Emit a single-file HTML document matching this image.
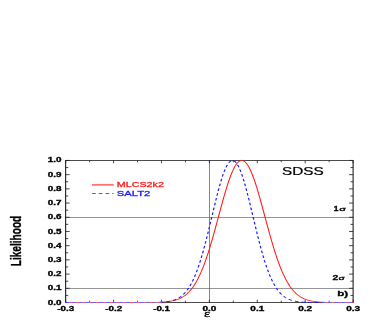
<!DOCTYPE html>
<html><head><meta charset="utf-8"><title>plot</title>
<style>
html,body{margin:0;padding:0;background:#fff;}
body{width:388px;height:332px;overflow:hidden;}
svg{display:block;will-change:transform;}
text{font-family:"Liberation Sans",sans-serif;}
</style></head><body>
<svg width="388" height="332" viewBox="0 0 388 332">
<rect width="388" height="332" fill="#fff"/>
<g transform="scale(1.38,1)">

<g stroke="#6b6b6b" stroke-width="0.6" fill="none">
<line x1="47.57" y1="217.50" x2="255.87" y2="217.50"/>
<line x1="47.57" y1="288.50" x2="255.87" y2="288.50"/>
<line x1="151.812" y1="160.45" x2="151.812" y2="302.50" stroke="#565656"/>
</g>
<rect x="47.57" y="160.45" width="208.30" height="142.05" fill="none" stroke="#111" stroke-width="0.75"/>
<path d="M47.57,302.50 h2.90 M255.87,302.50 h-2.90 M47.57,295.40 h1.88 M255.87,295.40 h-1.88 M47.57,288.30 h2.90 M255.87,288.30 h-2.90 M47.57,281.19 h1.88 M255.87,281.19 h-1.88 M47.57,274.09 h2.90 M255.87,274.09 h-2.90 M47.57,266.99 h1.88 M255.87,266.99 h-1.88 M47.57,259.88 h2.90 M255.87,259.88 h-2.90 M47.57,252.78 h1.88 M255.87,252.78 h-1.88 M47.57,245.68 h2.90 M255.87,245.68 h-2.90 M47.57,238.58 h1.88 M255.87,238.58 h-1.88 M47.57,231.47 h2.90 M255.87,231.47 h-2.90 M47.57,224.37 h1.88 M255.87,224.37 h-1.88 M47.57,217.27 h2.90 M255.87,217.27 h-2.90 M47.57,210.17 h1.88 M255.87,210.17 h-1.88 M47.57,203.06 h2.90 M255.87,203.06 h-2.90 M47.57,195.96 h1.88 M255.87,195.96 h-1.88 M47.57,188.86 h2.90 M255.87,188.86 h-2.90 M47.57,181.76 h1.88 M255.87,181.76 h-1.88 M47.57,174.65 h2.90 M255.87,174.65 h-2.90 M47.57,167.55 h1.88 M255.87,167.55 h-1.88 M47.57,160.45 h2.90 M255.87,160.45 h-2.90 M47.57,302.50 v-2.80 M47.57,160.45 v2.80 M64.93,302.50 v-1.80 M64.93,160.45 v1.80 M82.29,302.50 v-2.80 M82.29,160.45 v2.80 M99.65,302.50 v-1.80 M99.65,160.45 v1.80 M117.00,302.50 v-2.80 M117.00,160.45 v2.80 M134.36,302.50 v-1.80 M134.36,160.45 v1.80 M151.72,302.50 v-2.80 M151.72,160.45 v2.80 M169.08,302.50 v-1.80 M169.08,160.45 v1.80 M186.44,302.50 v-2.80 M186.44,160.45 v2.80 M203.80,302.50 v-1.80 M203.80,160.45 v1.80 M221.15,302.50 v-2.80 M221.15,160.45 v2.80 M238.51,302.50 v-1.80 M238.51,160.45 v1.80 M255.87,302.50 v-2.80 M255.87,160.45 v2.80" stroke="#222" stroke-width="0.7" fill="none"/>
<path d="M47.57,302.50 L47.92,302.50 L48.27,302.50 L48.61,302.50 L48.96,302.50 L49.31,302.50 L49.66,302.50 L50.00,302.50 L50.35,302.50 L50.70,302.50 L51.04,302.50 L51.39,302.50 L51.74,302.50 L52.09,302.50 L52.43,302.50 L52.78,302.50 L53.13,302.50 L53.47,302.50 L53.82,302.50 L54.17,302.50 L54.52,302.50 L54.86,302.50 L55.21,302.50 L55.56,302.50 L55.90,302.50 L56.25,302.50 L56.60,302.50 L56.95,302.50 L57.29,302.50 L57.64,302.50 L57.99,302.50 L58.33,302.50 L58.68,302.50 L59.03,302.50 L59.38,302.50 L59.72,302.50 L60.07,302.50 L60.42,302.50 L60.76,302.50 L61.11,302.50 L61.46,302.50 L61.81,302.50 L62.15,302.50 L62.50,302.50 L62.85,302.50 L63.19,302.50 L63.54,302.50 L63.89,302.50 L64.24,302.50 L64.58,302.50 L64.93,302.50 L65.28,302.50 L65.62,302.50 L65.97,302.50 L66.32,302.50 L66.67,302.50 L67.01,302.50 L67.36,302.50 L67.71,302.50 L68.06,302.50 L68.40,302.50 L68.75,302.50 L69.10,302.50 L69.44,302.50 L69.79,302.50 L70.14,302.50 L70.49,302.50 L70.83,302.50 L71.18,302.50 L71.53,302.50 L71.87,302.50 L72.22,302.50 L72.57,302.50 L72.92,302.50 L73.26,302.50 L73.61,302.50 L73.96,302.50 L74.30,302.50 L74.65,302.50 L75.00,302.50 L75.35,302.50 L75.69,302.50 L76.04,302.50 L76.39,302.50 L76.73,302.50 L77.08,302.50 L77.43,302.50 L77.78,302.50 L78.12,302.50 L78.47,302.50 L78.82,302.50 L79.16,302.50 L79.51,302.50 L79.86,302.50 L80.21,302.50 L80.55,302.50 L80.90,302.50 L81.25,302.50 L81.59,302.50 L81.94,302.50 L82.29,302.50 L82.64,302.50 L82.98,302.50 L83.33,302.50 L83.68,302.50 L84.02,302.50 L84.37,302.50 L84.72,302.50 L85.07,302.50 L85.41,302.50 L85.76,302.50 L86.11,302.50 L86.45,302.50 L86.80,302.50 L87.15,302.50 L87.50,302.50 L87.84,302.50 L88.19,302.50 L88.54,302.50 L88.88,302.50 L89.23,302.50 L89.58,302.50 L89.93,302.50 L90.27,302.50 L90.62,302.50 L90.97,302.50 L91.31,302.50 L91.66,302.50 L92.01,302.50 L92.36,302.50 L92.70,302.50 L93.05,302.50 L93.40,302.50 L93.74,302.50 L94.09,302.50 L94.44,302.50 L94.79,302.50 L95.13,302.50 L95.48,302.50 L95.83,302.50 L96.18,302.50 L96.52,302.50 L96.87,302.50 L97.22,302.50 L97.56,302.50 L97.91,302.50 L98.26,302.50 L98.61,302.50 L98.95,302.50 L99.30,302.49 L99.65,302.49 L99.99,302.49 L100.34,302.49 L100.69,302.49 L101.04,302.49 L101.38,302.49 L101.73,302.49 L102.08,302.49 L102.42,302.49 L102.77,302.49 L103.12,302.49 L103.47,302.48 L103.81,302.48 L104.16,302.48 L104.51,302.48 L104.85,302.48 L105.20,302.48 L105.55,302.47 L105.90,302.47 L106.24,302.47 L106.59,302.47 L106.94,302.46 L107.28,302.46 L107.63,302.46 L107.98,302.45 L108.33,302.45 L108.67,302.45 L109.02,302.44 L109.37,302.44 L109.71,302.43 L110.06,302.42 L110.41,302.42 L110.76,302.41 L111.10,302.40 L111.45,302.40 L111.80,302.39 L112.14,302.38 L112.49,302.37 L112.84,302.36 L113.19,302.35 L113.53,302.33 L113.88,302.32 L114.23,302.31 L114.57,302.29 L114.92,302.28 L115.27,302.26 L115.62,302.24 L115.96,302.22 L116.31,302.20 L116.66,302.18 L117.00,302.15 L117.35,302.13 L117.70,302.10 L118.05,302.07 L118.39,302.04 L118.74,302.01 L119.09,301.97 L119.43,301.93 L119.78,301.89 L120.13,301.85 L120.48,301.80 L120.82,301.75 L121.17,301.70 L121.52,301.65 L121.87,301.59 L122.21,301.53 L122.56,301.46 L122.91,301.39 L123.25,301.32 L123.60,301.24 L123.95,301.16 L124.30,301.07 L124.64,300.98 L124.99,300.88 L125.34,300.78 L125.68,300.67 L126.03,300.56 L126.38,300.43 L126.73,300.31 L127.07,300.17 L127.42,300.03 L127.77,299.88 L128.11,299.72 L128.46,299.56 L128.81,299.38 L129.16,299.20 L129.50,299.01 L129.85,298.81 L130.20,298.60 L130.54,298.37 L130.89,298.14 L131.24,297.90 L131.59,297.64 L131.93,297.38 L132.28,297.10 L132.63,296.80 L132.97,296.50 L133.32,296.18 L133.67,295.84 L134.02,295.50 L134.36,295.13 L134.71,294.75 L135.06,294.36 L135.40,293.95 L135.75,293.52 L136.10,293.07 L136.45,292.61 L136.79,292.13 L137.14,291.63 L137.49,291.11 L137.83,290.57 L138.18,290.01 L138.53,289.43 L138.88,288.82 L139.22,288.20 L139.57,287.55 L139.92,286.89 L140.26,286.20 L140.61,285.48 L140.96,284.74 L141.31,283.98 L141.65,283.20 L142.00,282.38 L142.35,281.55 L142.69,280.69 L143.04,279.80 L143.39,278.89 L143.74,277.95 L144.08,276.98 L144.43,275.99 L144.78,274.97 L145.12,273.92 L145.47,272.85 L145.82,271.75 L146.17,270.62 L146.51,269.47 L146.86,268.29 L147.21,267.08 L147.56,265.84 L147.90,264.58 L148.25,263.29 L148.60,261.98 L148.94,260.63 L149.29,259.27 L149.64,257.87 L149.99,256.45 L150.33,255.01 L150.68,253.54 L151.03,252.05 L151.37,250.54 L151.72,249.00 L152.07,247.44 L152.42,245.86 L152.76,244.26 L153.11,242.64 L153.46,241.00 L153.80,239.35 L154.15,237.68 L154.50,235.99 L154.85,234.28 L155.19,232.57 L155.54,230.84 L155.89,229.09 L156.23,227.34 L156.58,225.58 L156.93,223.82 L157.28,222.04 L157.62,220.26 L157.97,218.48 L158.32,216.70 L158.66,214.92 L159.01,213.13 L159.36,211.35 L159.71,209.58 L160.05,207.81 L160.40,206.05 L160.75,204.30 L161.09,202.55 L161.44,200.83 L161.79,199.11 L162.14,197.41 L162.48,195.73 L162.83,194.07 L163.18,192.43 L163.52,190.82 L163.87,189.23 L164.22,187.66 L164.57,186.13 L164.91,184.62 L165.26,183.15 L165.61,181.71 L165.95,180.30 L166.30,178.93 L166.65,177.60 L167.00,176.31 L167.34,175.06 L167.69,173.85 L168.04,172.69 L168.38,171.57 L168.73,170.50 L169.08,169.47 L169.43,168.50 L169.77,167.58 L170.12,166.71 L170.47,165.89 L170.81,165.13 L171.16,164.42 L171.51,163.77 L171.86,163.17 L172.20,162.63 L172.55,162.15 L172.90,161.73 L173.25,161.37 L173.59,161.07 L173.94,160.82 L174.29,160.64 L174.63,160.52 L174.98,160.46 L175.33,160.46 L175.68,160.52 L176.02,160.64 L176.37,160.82 L176.72,161.07 L177.06,161.37 L177.41,161.73 L177.76,162.15 L178.11,162.63 L178.45,163.17 L178.80,163.77 L179.15,164.42 L179.49,165.13 L179.84,165.89 L180.19,166.71 L180.54,167.58 L180.88,168.50 L181.23,169.47 L181.58,170.50 L181.92,171.57 L182.27,172.69 L182.62,173.85 L182.97,175.06 L183.31,176.31 L183.66,177.60 L184.01,178.93 L184.35,180.30 L184.70,181.71 L185.05,183.15 L185.40,184.62 L185.74,186.13 L186.09,187.66 L186.44,189.23 L186.78,190.82 L187.13,192.43 L187.48,194.07 L187.83,195.73 L188.17,197.41 L188.52,199.11 L188.87,200.83 L189.21,202.55 L189.56,204.30 L189.91,206.05 L190.26,207.81 L190.60,209.58 L190.95,211.35 L191.30,213.13 L191.64,214.92 L191.99,216.70 L192.34,218.48 L192.69,220.26 L193.03,222.04 L193.38,223.82 L193.73,225.58 L194.07,227.34 L194.42,229.09 L194.77,230.84 L195.12,232.57 L195.46,234.28 L195.81,235.99 L196.16,237.68 L196.50,239.35 L196.85,241.00 L197.20,242.64 L197.55,244.26 L197.89,245.86 L198.24,247.44 L198.59,249.00 L198.94,250.54 L199.28,252.05 L199.63,253.54 L199.98,255.01 L200.32,256.45 L200.67,257.87 L201.02,259.27 L201.37,260.63 L201.71,261.98 L202.06,263.29 L202.41,264.58 L202.75,265.84 L203.10,267.08 L203.45,268.29 L203.80,269.47 L204.14,270.62 L204.49,271.75 L204.84,272.85 L205.18,273.92 L205.53,274.97 L205.88,275.99 L206.23,276.98 L206.57,277.95 L206.92,278.89 L207.27,279.80 L207.61,280.69 L207.96,281.55 L208.31,282.38 L208.66,283.20 L209.00,283.98 L209.35,284.74 L209.70,285.48 L210.04,286.20 L210.39,286.89 L210.74,287.55 L211.09,288.20 L211.43,288.82 L211.78,289.43 L212.13,290.01 L212.47,290.57 L212.82,291.11 L213.17,291.63 L213.52,292.13 L213.86,292.61 L214.21,293.07 L214.56,293.52 L214.90,293.95 L215.25,294.36 L215.60,294.75 L215.95,295.13 L216.29,295.50 L216.64,295.84 L216.99,296.18 L217.33,296.50 L217.68,296.80 L218.03,297.10 L218.38,297.38 L218.72,297.64 L219.07,297.90 L219.42,298.14 L219.76,298.37 L220.11,298.60 L220.46,298.81 L220.81,299.01 L221.15,299.20 L221.50,299.38 L221.85,299.56 L222.19,299.72 L222.54,299.88 L222.89,300.03 L223.24,300.17 L223.58,300.31 L223.93,300.43 L224.28,300.56 L224.63,300.67 L224.97,300.78 L225.32,300.88 L225.67,300.98 L226.01,301.07 L226.36,301.16 L226.71,301.24 L227.06,301.32 L227.40,301.39 L227.75,301.46 L228.10,301.53 L228.44,301.59 L228.79,301.65 L229.14,301.70 L229.49,301.75 L229.83,301.80 L230.18,301.85 L230.53,301.89 L230.87,301.93 L231.22,301.97 L231.57,302.01 L231.92,302.04 L232.26,302.07 L232.61,302.10 L232.96,302.13 L233.30,302.15 L233.65,302.18 L234.00,302.20 L234.35,302.22 L234.69,302.24 L235.04,302.26 L235.39,302.28 L235.73,302.29 L236.08,302.31 L236.43,302.32 L236.78,302.33 L237.12,302.35 L237.47,302.36 L237.82,302.37 L238.16,302.38 L238.51,302.39 L238.86,302.40 L239.21,302.40 L239.55,302.41 L239.90,302.42 L240.25,302.42 L240.59,302.43 L240.94,302.44 L241.29,302.44 L241.64,302.45 L241.98,302.45 L242.33,302.45 L242.68,302.46 L243.02,302.46 L243.37,302.46 L243.72,302.47 L244.07,302.47 L244.41,302.47 L244.76,302.47 L245.11,302.48 L245.45,302.48 L245.80,302.48 L246.15,302.48 L246.50,302.48 L246.84,302.48 L247.19,302.49 L247.54,302.49 L247.88,302.49 L248.23,302.49 L248.58,302.49 L248.93,302.49 L249.27,302.49 L249.62,302.49 L249.97,302.49 L250.31,302.49 L250.66,302.49 L251.01,302.49 L251.36,302.50 L251.70,302.50 L252.05,302.50 L252.40,302.50 L252.75,302.50 L253.09,302.50 L253.44,302.50 L253.79,302.50 L254.13,302.50 L254.48,302.50 L254.83,302.50 L255.18,302.50 L255.52,302.50 L255.87,302.50" stroke="#ff1a1a" stroke-width="0.78" fill="none"/>
<path d="M47.57,302.50 L47.92,302.50 L48.27,302.50 L48.61,302.50 L48.96,302.50 L49.31,302.50 L49.66,302.50 L50.00,302.50 L50.35,302.50 L50.70,302.50 L51.04,302.50 L51.39,302.50 L51.74,302.50 L52.09,302.50 L52.43,302.50 L52.78,302.50 L53.13,302.50 L53.47,302.50 L53.82,302.50 L54.17,302.50 L54.52,302.50 L54.86,302.50 L55.21,302.50 L55.56,302.50 L55.90,302.50 L56.25,302.50 L56.60,302.50 L56.95,302.50 L57.29,302.50 L57.64,302.50 L57.99,302.50 L58.33,302.50 L58.68,302.50 L59.03,302.50 L59.38,302.50 L59.72,302.50 L60.07,302.50 L60.42,302.50 L60.76,302.50 L61.11,302.50 L61.46,302.50 L61.81,302.50 L62.15,302.50 L62.50,302.50 L62.85,302.50 L63.19,302.50 L63.54,302.50 L63.89,302.50 L64.24,302.50 L64.58,302.50 L64.93,302.50 L65.28,302.50 L65.62,302.50 L65.97,302.50 L66.32,302.50 L66.67,302.50 L67.01,302.50 L67.36,302.50 L67.71,302.50 L68.06,302.50 L68.40,302.50 L68.75,302.50 L69.10,302.50 L69.44,302.50 L69.79,302.50 L70.14,302.50 L70.49,302.50 L70.83,302.50 L71.18,302.50 L71.53,302.50 L71.87,302.50 L72.22,302.50 L72.57,302.50 L72.92,302.50 L73.26,302.50 L73.61,302.50 L73.96,302.50 L74.30,302.50 L74.65,302.50 L75.00,302.50 L75.35,302.50 L75.69,302.50 L76.04,302.50 L76.39,302.50 L76.73,302.50 L77.08,302.50 L77.43,302.50 L77.78,302.50 L78.12,302.50 L78.47,302.50 L78.82,302.50 L79.16,302.50 L79.51,302.50 L79.86,302.50 L80.21,302.50 L80.55,302.50 L80.90,302.50 L81.25,302.50 L81.59,302.50 L81.94,302.50 L82.29,302.50 L82.64,302.50 L82.98,302.50 L83.33,302.50 L83.68,302.50 L84.02,302.50 L84.37,302.50 L84.72,302.50 L85.07,302.50 L85.41,302.50 L85.76,302.50 L86.11,302.50 L86.45,302.50 L86.80,302.50 L87.15,302.50 L87.50,302.50 L87.84,302.50 L88.19,302.50 L88.54,302.50 L88.88,302.50 L89.23,302.50 L89.58,302.50 L89.93,302.50 L90.27,302.50 L90.62,302.50 L90.97,302.50 L91.31,302.50 L91.66,302.50 L92.01,302.50 L92.36,302.50 L92.70,302.50 L93.05,302.50 L93.40,302.50 L93.74,302.50 L94.09,302.50 L94.44,302.50 L94.79,302.50 L95.13,302.50 L95.48,302.50 L95.83,302.50 L96.18,302.50 L96.52,302.50 L96.87,302.50 L97.22,302.50 L97.56,302.50 L97.91,302.50 L98.26,302.50 L98.61,302.50 L98.95,302.50 L99.30,302.50 L99.65,302.50 L99.99,302.50 L100.34,302.50 L100.69,302.50 L101.04,302.50 L101.38,302.49 L101.73,302.49 L102.08,302.49 L102.42,302.49 L102.77,302.49 L103.12,302.49 L103.47,302.49 L103.81,302.49 L104.16,302.49 L104.51,302.49 L104.85,302.49 L105.20,302.48 L105.55,302.48 L105.90,302.48 L106.24,302.48 L106.59,302.48 L106.94,302.47 L107.28,302.47 L107.63,302.47 L107.98,302.46 L108.33,302.46 L108.67,302.46 L109.02,302.45 L109.37,302.45 L109.71,302.44 L110.06,302.44 L110.41,302.43 L110.76,302.42 L111.10,302.42 L111.45,302.41 L111.80,302.40 L112.14,302.39 L112.49,302.38 L112.84,302.37 L113.19,302.36 L113.53,302.35 L113.88,302.33 L114.23,302.32 L114.57,302.30 L114.92,302.28 L115.27,302.27 L115.62,302.25 L115.96,302.22 L116.31,302.20 L116.66,302.17 L117.00,302.15 L117.35,302.12 L117.70,302.08 L118.05,302.05 L118.39,302.01 L118.74,301.97 L119.09,301.93 L119.43,301.88 L119.78,301.84 L120.13,301.78 L120.48,301.73 L120.82,301.67 L121.17,301.60 L121.52,301.53 L121.87,301.46 L122.21,301.38 L122.56,301.30 L122.91,301.21 L123.25,301.11 L123.60,301.01 L123.95,300.90 L124.30,300.78 L124.64,300.66 L124.99,300.53 L125.34,300.39 L125.68,300.24 L126.03,300.09 L126.38,299.92 L126.73,299.75 L127.07,299.56 L127.42,299.36 L127.77,299.16 L128.11,298.94 L128.46,298.70 L128.81,298.46 L129.16,298.20 L129.50,297.93 L129.85,297.64 L130.20,297.34 L130.54,297.02 L130.89,296.68 L131.24,296.33 L131.59,295.96 L131.93,295.57 L132.28,295.17 L132.63,294.74 L132.97,294.29 L133.32,293.82 L133.67,293.33 L134.02,292.82 L134.36,292.28 L134.71,291.72 L135.06,291.14 L135.40,290.53 L135.75,289.89 L136.10,289.23 L136.45,288.54 L136.79,287.83 L137.14,287.08 L137.49,286.31 L137.83,285.51 L138.18,284.67 L138.53,283.81 L138.88,282.91 L139.22,281.99 L139.57,281.03 L139.92,280.04 L140.26,279.01 L140.61,277.95 L140.96,276.86 L141.31,275.74 L141.65,274.58 L142.00,273.38 L142.35,272.15 L142.69,270.89 L143.04,269.59 L143.39,268.26 L143.74,266.90 L144.08,265.49 L144.43,264.06 L144.78,262.59 L145.12,261.09 L145.47,259.55 L145.82,257.98 L146.17,256.38 L146.51,254.75 L146.86,253.09 L147.21,251.40 L147.56,249.67 L147.90,247.92 L148.25,246.15 L148.60,244.34 L148.94,242.52 L149.29,240.66 L149.64,238.79 L149.99,236.89 L150.33,234.98 L150.68,233.05 L151.03,231.10 L151.37,229.13 L151.72,227.16 L152.07,225.17 L152.42,223.17 L152.76,221.17 L153.11,219.16 L153.46,217.15 L153.80,215.13 L154.15,213.12 L154.50,211.11 L154.85,209.11 L155.19,207.12 L155.54,205.14 L155.89,203.17 L156.23,201.21 L156.58,199.27 L156.93,197.36 L157.28,195.46 L157.62,193.59 L157.97,191.75 L158.32,189.94 L158.66,188.17 L159.01,186.42 L159.36,184.72 L159.71,183.06 L160.05,181.43 L160.40,179.86 L160.75,178.33 L161.09,176.85 L161.44,175.42 L161.79,174.05 L162.14,172.73 L162.48,171.47 L162.83,170.27 L163.18,169.13 L163.52,168.06 L163.87,167.05 L164.22,166.11 L164.57,165.23 L164.91,164.43 L165.26,163.69 L165.61,163.03 L165.95,162.45 L166.30,161.93 L166.65,161.49 L167.00,161.13 L167.34,160.85 L167.69,160.64 L168.04,160.51 L168.38,160.45 L168.73,160.47 L169.08,160.58 L169.43,160.75 L169.77,161.01 L170.12,161.34 L170.47,161.75 L170.81,162.23 L171.16,162.79 L171.51,163.42 L171.86,164.13 L172.20,164.90 L172.55,165.75 L172.90,166.66 L173.25,167.65 L173.59,168.69 L173.94,169.81 L174.29,170.98 L174.63,172.22 L174.98,173.51 L175.33,174.87 L175.68,176.27 L176.02,177.73 L176.37,179.24 L176.72,180.80 L177.06,182.40 L177.41,184.05 L177.76,185.74 L178.11,187.47 L178.45,189.23 L178.80,191.03 L179.15,192.85 L179.49,194.71 L179.84,196.60 L180.19,198.50 L180.54,200.43 L180.88,202.38 L181.23,204.35 L181.58,206.32 L181.92,208.31 L182.27,210.31 L182.62,212.32 L182.97,214.33 L183.31,216.34 L183.66,218.35 L184.01,220.37 L184.35,222.37 L184.70,224.37 L185.05,226.36 L185.40,228.34 L185.74,230.31 L186.09,232.27 L186.44,234.21 L186.78,236.13 L187.13,238.03 L187.48,239.92 L187.83,241.78 L188.17,243.62 L188.52,245.43 L188.87,247.22 L189.21,248.98 L189.56,250.71 L189.91,252.42 L190.26,254.09 L190.60,255.73 L190.95,257.35 L191.30,258.93 L191.64,260.48 L191.99,261.99 L192.34,263.48 L192.69,264.92 L193.03,266.34 L193.38,267.72 L193.73,269.07 L194.07,270.38 L194.42,271.65 L194.77,272.90 L195.12,274.10 L195.46,275.28 L195.81,276.42 L196.16,277.52 L196.50,278.59 L196.85,279.63 L197.20,280.64 L197.55,281.61 L197.89,282.55 L198.24,283.45 L198.59,284.33 L198.94,285.18 L199.28,285.99 L199.63,286.78 L199.98,287.53 L200.32,288.26 L200.67,288.96 L201.02,289.63 L201.37,290.28 L201.71,290.90 L202.06,291.49 L202.41,292.06 L202.75,292.61 L203.10,293.13 L203.45,293.63 L203.80,294.11 L204.14,294.56 L204.49,295.00 L204.84,295.41 L205.18,295.81 L205.53,296.19 L205.88,296.54 L206.23,296.89 L206.57,297.21 L206.92,297.52 L207.27,297.81 L207.61,298.09 L207.96,298.36 L208.31,298.61 L208.66,298.85 L209.00,299.07 L209.35,299.28 L209.70,299.48 L210.04,299.67 L210.39,299.85 L210.74,300.02 L211.09,300.18 L211.43,300.33 L211.78,300.48 L212.13,300.61 L212.47,300.74 L212.82,300.85 L213.17,300.97 L213.52,301.07 L213.86,301.17 L214.21,301.26 L214.56,301.35 L214.90,301.43 L215.25,301.50 L215.60,301.57 L215.95,301.64 L216.29,301.70 L216.64,301.76 L216.99,301.82 L217.33,301.87 L217.68,301.91 L218.03,301.96 L218.38,302.00 L218.72,302.04 L219.07,302.07 L219.42,302.10 L219.76,302.13 L220.11,302.16 L220.46,302.19 L220.81,302.21 L221.15,302.24 L221.50,302.26 L221.85,302.28 L222.19,302.29 L222.54,302.31 L222.89,302.33 L223.24,302.34 L223.58,302.35 L223.93,302.37 L224.28,302.38 L224.63,302.39 L224.97,302.40 L225.32,302.41 L225.67,302.41 L226.01,302.42 L226.36,302.43 L226.71,302.43 L227.06,302.44 L227.40,302.45 L227.75,302.45 L228.10,302.45 L228.44,302.46 L228.79,302.46 L229.14,302.47 L229.49,302.47 L229.83,302.47 L230.18,302.47 L230.53,302.48 L230.87,302.48 L231.22,302.48 L231.57,302.48 L231.92,302.48 L232.26,302.49 L232.61,302.49 L232.96,302.49 L233.30,302.49 L233.65,302.49 L234.00,302.49 L234.35,302.49 L234.69,302.49 L235.04,302.49 L235.39,302.49 L235.73,302.49 L236.08,302.50 L236.43,302.50 L236.78,302.50 L237.12,302.50 L237.47,302.50 L237.82,302.50 L238.16,302.50 L238.51,302.50 L238.86,302.50 L239.21,302.50 L239.55,302.50 L239.90,302.50 L240.25,302.50 L240.59,302.50 L240.94,302.50 L241.29,302.50 L241.64,302.50 L241.98,302.50 L242.33,302.50 L242.68,302.50 L243.02,302.50 L243.37,302.50 L243.72,302.50 L244.07,302.50 L244.41,302.50 L244.76,302.50 L245.11,302.50 L245.45,302.50 L245.80,302.50 L246.15,302.50 L246.50,302.50 L246.84,302.50 L247.19,302.50 L247.54,302.50 L247.88,302.50 L248.23,302.50 L248.58,302.50 L248.93,302.50 L249.27,302.50 L249.62,302.50 L249.97,302.50 L250.31,302.50 L250.66,302.50 L251.01,302.50 L251.36,302.50 L251.70,302.50 L252.05,302.50 L252.40,302.50 L252.75,302.50 L253.09,302.50 L253.44,302.50 L253.79,302.50 L254.13,302.50 L254.48,302.50 L254.83,302.50 L255.18,302.50 L255.52,302.50 L255.87,302.50" stroke="#1a1aff" stroke-width="0.88" stroke-dasharray="2.62 2.25" fill="none"/>
<rect x="66.67" y="183.95" width="15.72" height="1.75" fill="#ff1a1a" opacity="0.62"/>
<line x1="66.74" y1="193.4" x2="82.32" y2="193.4" stroke="#1a1aff" stroke-width="0.88" stroke-dasharray="2.62 2.25"/>
</g>
<rect x="66.6" y="301.5" width="95" height="2" fill="#fff" opacity="0.3"/>
<rect x="322" y="301.5" width="30.3" height="2" fill="#fff" opacity="0.3"/>
<text x="116.80" y="187.10" font-size="7.50" font-weight="normal" fill="#ff1a1a" textLength="47.10" lengthAdjust="spacingAndGlyphs" stroke="#ff1a1a" stroke-width="0.3">MLCS2k2</text>
<text x="116.80" y="195.80" font-size="7.50" font-weight="normal" fill="#1a1aff" textLength="33.50" lengthAdjust="spacingAndGlyphs" stroke="#1a1aff" stroke-width="0.3">SALT2</text>
<text x="282.00" y="175.20" font-size="10.10" font-weight="normal" fill="#000" textLength="41.70" lengthAdjust="spacingAndGlyphs" stroke="#000" stroke-width="0.22">SDSS</text>
<text x="47.70" y="162.45" font-size="6.40" font-weight="bold" fill="#000" textLength="13.70" lengthAdjust="spacingAndGlyphs" stroke="#000" stroke-width="0.3">1.0</text>
<text x="47.70" y="176.67" font-size="6.40" font-weight="bold" fill="#000" textLength="13.70" lengthAdjust="spacingAndGlyphs" stroke="#000" stroke-width="0.3">0.9</text>
<text x="47.70" y="190.89" font-size="6.40" font-weight="bold" fill="#000" textLength="13.70" lengthAdjust="spacingAndGlyphs" stroke="#000" stroke-width="0.3">0.8</text>
<text x="47.70" y="205.11" font-size="6.40" font-weight="bold" fill="#000" textLength="13.70" lengthAdjust="spacingAndGlyphs" stroke="#000" stroke-width="0.3">0.7</text>
<text x="47.70" y="219.33" font-size="6.40" font-weight="bold" fill="#000" textLength="13.70" lengthAdjust="spacingAndGlyphs" stroke="#000" stroke-width="0.3">0.6</text>
<text x="47.70" y="233.55" font-size="6.40" font-weight="bold" fill="#000" textLength="13.70" lengthAdjust="spacingAndGlyphs" stroke="#000" stroke-width="0.3">0.5</text>
<text x="47.70" y="247.77" font-size="6.40" font-weight="bold" fill="#000" textLength="13.70" lengthAdjust="spacingAndGlyphs" stroke="#000" stroke-width="0.3">0.4</text>
<text x="47.70" y="261.99" font-size="6.40" font-weight="bold" fill="#000" textLength="13.70" lengthAdjust="spacingAndGlyphs" stroke="#000" stroke-width="0.3">0.3</text>
<text x="47.70" y="276.21" font-size="6.40" font-weight="bold" fill="#000" textLength="13.70" lengthAdjust="spacingAndGlyphs" stroke="#000" stroke-width="0.3">0.2</text>
<text x="47.70" y="290.43" font-size="6.40" font-weight="bold" fill="#000" textLength="13.70" lengthAdjust="spacingAndGlyphs" stroke="#000" stroke-width="0.3">0.1</text>
<text x="47.70" y="304.65" font-size="6.40" font-weight="bold" fill="#000" textLength="13.70" lengthAdjust="spacingAndGlyphs" stroke="#000" stroke-width="0.3">0.0</text>
<text x="57.35" y="310.75" font-size="6.60" font-weight="bold" fill="#000" textLength="16.90" lengthAdjust="spacingAndGlyphs" stroke="#000" stroke-width="0.3">-0.3</text>
<text x="105.26" y="310.75" font-size="6.60" font-weight="bold" fill="#000" textLength="16.90" lengthAdjust="spacingAndGlyphs" stroke="#000" stroke-width="0.3">-0.2</text>
<text x="153.17" y="310.75" font-size="6.60" font-weight="bold" fill="#000" textLength="16.90" lengthAdjust="spacingAndGlyphs" stroke="#000" stroke-width="0.3">-0.1</text>
<text x="202.43" y="310.75" font-size="6.60" font-weight="bold" fill="#000" textLength="13.90" lengthAdjust="spacingAndGlyphs" stroke="#000" stroke-width="0.3">0.0</text>
<text x="250.33" y="310.75" font-size="6.60" font-weight="bold" fill="#000" textLength="13.90" lengthAdjust="spacingAndGlyphs" stroke="#000" stroke-width="0.3">0.1</text>
<text x="298.24" y="310.75" font-size="6.60" font-weight="bold" fill="#000" textLength="13.90" lengthAdjust="spacingAndGlyphs" stroke="#000" stroke-width="0.3">0.2</text>
<text x="346.15" y="310.75" font-size="6.60" font-weight="bold" fill="#000" textLength="13.90" lengthAdjust="spacingAndGlyphs" stroke="#000" stroke-width="0.3">0.3</text>
<text x="333.70" y="211.00" font-size="6.60" font-weight="bold" fill="#000" textLength="4.70" lengthAdjust="spacingAndGlyphs" stroke="#000" stroke-width="0.3">1</text>
<text x="339.20" y="210.90" font-size="6.20" font-weight="normal" fill="#000" textLength="6.70" lengthAdjust="spacingAndGlyphs" stroke="#000" stroke-width="0.35">&#963;</text>
<text x="332.40" y="280.00" font-size="7.00" font-weight="bold" fill="#000" textLength="5.80" lengthAdjust="spacingAndGlyphs" stroke="#000" stroke-width="0.3">2</text>
<text x="338.50" y="279.80" font-size="6.20" font-weight="normal" fill="#000" textLength="6.30" lengthAdjust="spacingAndGlyphs" stroke="#000" stroke-width="0.35">&#963;</text>
<text x="337.20" y="296.30" font-size="7.30" font-weight="bold" fill="#000" textLength="11.00" lengthAdjust="spacingAndGlyphs" stroke="#000" stroke-width="0.3">b)</text>
<text x="204.0" y="316.9" font-size="10.6" style="font-family:'Liberation Serif',serif" textLength="6.1" lengthAdjust="spacingAndGlyphs" stroke="#000" stroke-width="0.3">&#949;</text>
<text transform="translate(21.45,266.3) rotate(-90) scale(1,1.57)" x="0" y="0" font-size="9.8" font-weight="bold" textLength="50.6" lengthAdjust="spacingAndGlyphs" stroke="#000" stroke-width="0.22">Likelihood</text>
</svg></body></html>
